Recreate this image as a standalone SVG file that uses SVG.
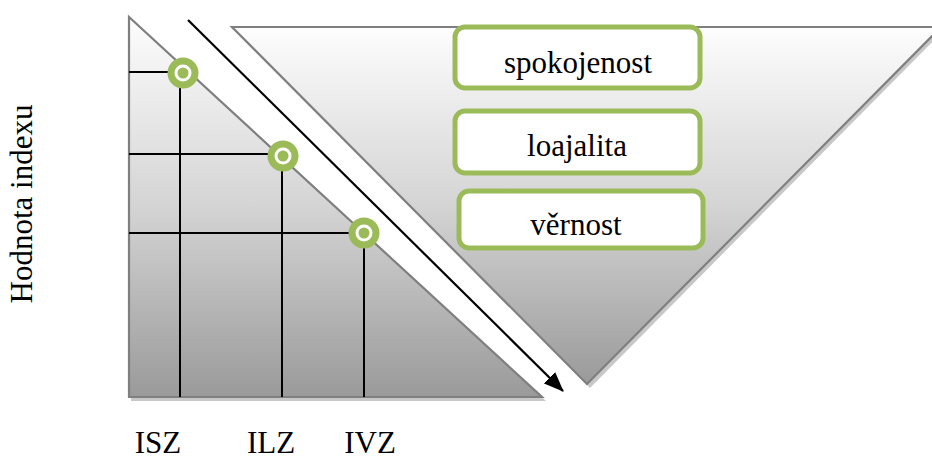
<svg xmlns="http://www.w3.org/2000/svg" width="932" height="461" viewBox="0 0 932 461">
  <defs>
    <linearGradient id="fade" x1="0" y1="0" x2="0" y2="1">
      <stop offset="0" stop-color="#fdfdfd"/>
      <stop offset="0.5" stop-color="#d4d4d4"/>
      <stop offset="1" stop-color="#9a9a9a"/>
    </linearGradient>
    <marker id="head" viewBox="0 0 20 16" refX="19" refY="8" markerWidth="20" markerHeight="16" markerUnits="userSpaceOnUse" orient="auto">
      <path d="M0,0 L20,8 L0,16 Z" fill="#000"/>
    </marker>
    <g id="dot">
      <circle r="15.5" fill="#9bbb59"/>
      <circle r="7" fill="none" stroke="#fff" stroke-width="3"/>
      <circle r="3" fill="#9bbb59"/>
    </g>
  </defs>
  <style>
    .tri { fill: url(#fade); stroke: #7f7f7f; stroke-width: 2.2; stroke-linejoin: miter; }
    .shadow { fill: #c8c8c8; }
    .grid { stroke: #000; stroke-width: 2; fill: none; }
    .box { fill: #fff; stroke: #9bbb59; stroke-width: 5; }
    .lbl { font-family: Liberation Serif, Times New Roman, Tinos, Noto Serif, DejaVu Serif, serif; fill: #000; }
  </style>

  <rect width="932" height="461" fill="#fff"/>

  <!-- inverted triangle on the right -->
  <g id="funnel">
    <polygon class="shadow" points="235,30 944,30 590,388"/>
    <polygon class="tri" points="232,27 941,27 587,384"/>
  </g>

  <!-- right-angled triangle on the left -->
  <g id="area">
    <polygon class="shadow" points="131,19 131,401 546,401"/>
    <polygon class="tri" points="129,17 129,397 542,397"/>
  </g>

  <!-- grid lines to the points -->
  <g id="grid">
    <path class="grid" d="M129,72 H183 M180,73 V397"/>
    <path class="grid" d="M129,154 H283 M282,156 V397"/>
    <path class="grid" d="M129,233 H364 M364,233 V397"/>
  </g>

  <!-- connectors -->
  <g id="connectors">
    <line x1="188" y1="20" x2="563" y2="391" stroke="#000" stroke-width="2.2" marker-end="url(#head)"/>
  </g>

  <g id="point-isz"><use href="#dot" x="183" y="73"/></g>
  <g id="point-ilz"><use href="#dot" x="283" y="156"/></g>
  <g id="point-ivz"><use href="#dot" x="364" y="233"/></g>

  <g id="spokojenost">
    <rect class="box" x="455" y="27" width="245" height="61" rx="10"/>
    <text class="lbl" x="578" y="73" font-size="31" text-anchor="middle">spokojenost</text>
  </g>
  <g id="loajalita">
    <rect class="box" x="455" y="111" width="245" height="62" rx="10"/>
    <text class="lbl" x="577" y="156" font-size="31" text-anchor="middle">loajalita</text>
  </g>
  <g id="vernost">
    <rect class="box" x="459" y="191" width="244" height="57" rx="10"/>
    <text class="lbl" x="576" y="235" font-size="31" text-anchor="middle">věrnost</text>
  </g>

  <g id="axis-labels" class="lbl" font-size="31" text-anchor="middle">
    <text x="158" y="453">ISZ</text>
    <text x="271" y="453">ILZ</text>
    <text x="370" y="453">IVZ</text>
    <text transform="translate(32,204) rotate(-90)">Hodnota indexu</text>
  </g>
</svg>
